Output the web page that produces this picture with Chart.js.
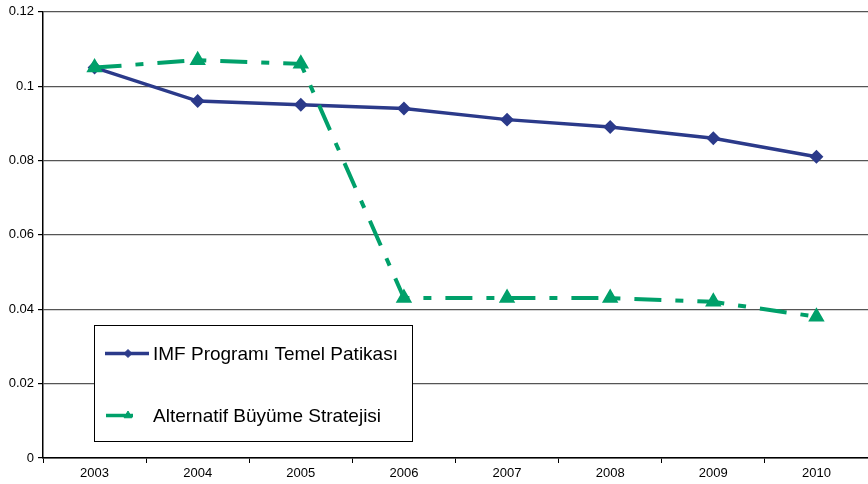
<!DOCTYPE html>
<html lang="tr">
<head>
  <meta charset="UTF-8">
  <title>IMF Programı ve Alternatif Büyüme Stratejisi</title>
  <script src="https://cdn.jsdelivr.net/npm/chart.js"></script>
  <style>
    body { margin: 0; background: #fff; }
    #wrap { width: 868px; height: 484px; }
  </style>
</head>
<body>
<div id="wrap"><canvas id="chart" width="868" height="484"></canvas></div>

<script>
    const years = ['2003', '2004', '2005', '2006', '2007', '2008', '2009', '2010'];
    const imfPath = [0.105, 0.096, 0.095, 0.094, 0.091, 0.089, 0.086, 0.081];
    const altPath = [0.105, 0.107, 0.106, 0.043, 0.043, 0.043, 0.042, 0.038];
    const seriesNames = ['IMF Programı Temel Patikası', 'Alternatif Büyüme Stratejisi'];

    const BLUE = '#2B3A8A';
    const GREEN = '#00A06A';
    const DASH = [27, 14, 8, 14];
    const FONT = "'Liberation Sans', Arial, sans-serif";

    // legend box drawn inside the plot, bottom left
    const boxLegend = {
        id: 'boxLegend',
        afterDraw(chart) {
            const ctx = chart.ctx;
            const x = 94.5, y = 325.5, w = 318, h = 116;
            ctx.save();
            ctx.fillStyle = '#fff';
            ctx.fillRect(x, y, w, h);
            ctx.strokeStyle = '#000';
            ctx.lineWidth = 1;
            ctx.strokeRect(x, y, w, h);

            const rows = [
                { y: y + 28, color: BLUE, style: 'rectRot', x0: 105, x1: 149, r: 4 },
                { y: y + 90, color: GREEN, style: 'triangle', x0: 106, x1: 133, r: 4.5 }
            ];
            rows.forEach((r, i) => {
                ctx.strokeStyle = r.color;
                ctx.lineWidth = 3.5;
                ctx.beginPath();
                ctx.moveTo(r.x0, r.y);
                ctx.lineTo(r.x1, r.y);
                ctx.stroke();
                ctx.fillStyle = r.color;
                ctx.lineWidth = 1;
                Chart.helpers.drawPoint(ctx, { pointStyle: r.style, radius: r.r, borderWidth: 1 }, 128, r.y);
                ctx.fillStyle = '#000';
                ctx.font = '19px ' + FONT;
                ctx.textBaseline = 'middle';
                ctx.fillText(seriesNames[i], 153, r.y + 1);
            });
            ctx.restore();
        }
    };

    new Chart(document.getElementById('chart'), {
        type: 'line',
        data: {
            labels: years,
            datasets: [
                {
                    label: seriesNames[0],
                    data: imfPath,
                    borderColor: BLUE,
                    backgroundColor: BLUE,
                    borderWidth: 3.5,
                    pointStyle: 'rectRot',
                    pointRadius: 4.5,
                    tension: 0,
                    order: 1
                },
                {
                    label: seriesNames[1],
                    data: altPath,
                    borderColor: GREEN,
                    backgroundColor: GREEN,
                    borderWidth: 4,
                    borderDash: DASH,
                    pointStyle: 'triangle',
                    pointRadius: 5.5,
                    tension: 0,
                    order: 0
                }
            ]
        },
        options: {
            responsive: false,
            animation: false,
            layout: {
                autoPadding: false,
                padding: { top: 10, right: 0, left: 0, bottom: 0 }
            },
            plugins: {
                legend: { display: false },
                tooltip: { enabled: false }
            },
            scales: {
                x: {
                    offset: true,
                    afterFit(s) {
                        s.height = 26;
                        s.paddingLeft = 0;
                        s.paddingRight = 0;
                    },
                    grid: {
                        offset: true,
                        drawOnChartArea: false,
                        color: '#000',
                        tickLength: 5
                    },
                    border: { color: '#000', width: 1.5 },
                    ticks: {
                        color: '#000',
                        font: { family: FONT, size: 13 },
                        padding: 3,
                        maxRotation: 0
                    }
                },
                y: {
                    min: 0,
                    max: 0.12,
                    afterFit(s) { s.width = 43; },
                    grid: {
                        color: '#555',
                        lineWidth: 1.2,
                        tickLength: 5,
                        tickColor: '#000'
                    },
                    border: { color: '#000', width: 1.5 },
                    ticks: {
                        stepSize: 0.02,
                        color: '#000',
                        font: { family: FONT, size: 13 },
                        padding: 4,
                        callback: v => String(+v.toFixed(2))
                    }
                }
            }
        },
        plugins: [boxLegend]
    });
</script>
</body>
</html>
